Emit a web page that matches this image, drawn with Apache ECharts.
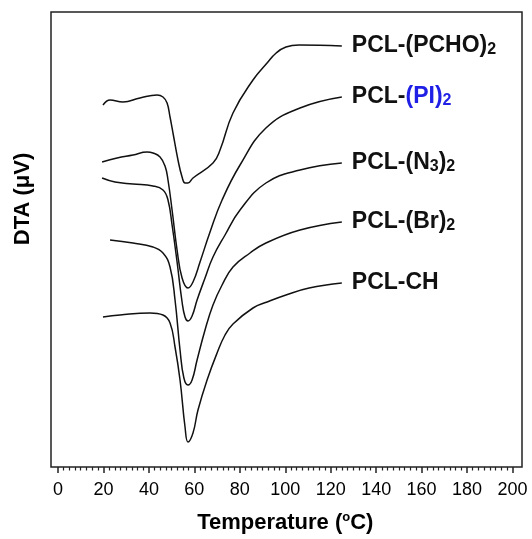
<!DOCTYPE html>
<html>
<head>
<meta charset="utf-8">
<script src="https://cdn.jsdelivr.net/npm/echarts@6/dist/echarts.min.js"></script>
<style>
html, body { margin: 0; padding: 0; background: #fff; }
#chart { width: 532px; height: 539px; }
</style>
</head>
<body>
<div id="chart"></div>
<script>
let chart = echarts.init(document.getElementById('chart'));

// 数据：[温度 °C, DTA 任意单位]
let pchoData = [[19.8, 362], [22.9, 367], [28.6, 365], [36.1, 369], [43.6, 372], [46.2, 370], [48.0, 364],
    [49.3, 350], [50.6, 334], [52.8, 307], [54.6, 290], [55.9, 284], [57.2, 284], [59.4, 289], [68.2, 304],
    [71.3, 317], [77.0, 354], [85.8, 387], [92.0, 404], [96.0, 414], [100.3, 420], [106.1, 422], [124.9, 421]];
let piData = [[19.4, 305], [26.0, 309], [33.0, 312], [39.2, 315], [41.8, 314], [44.9, 310], [47.1, 301],
    [48.4, 287], [50.2, 257], [52.4, 217], [54.6, 189], [57.2, 179], [59.4, 185], [62.5, 205], [66.9, 235],
    [72.2, 267], [80.1, 302], [91.5, 339], [106.5, 359], [124.9, 370]];
let n3Data = [[19.4, 289], [25.1, 285], [33.0, 283], [41.8, 281], [46.2, 277], [48.4, 267], [50.2, 242],
    [52.4, 205], [54.6, 165], [55.9, 150], [57.2, 146], [59.0, 151], [61.2, 167], [64.7, 189], [68.2, 210],
    [73.5, 232], [80.1, 257], [91.5, 284], [106.5, 297], [124.9, 304]];
let brData = [[22.9, 227], [33.0, 224], [41.8, 220], [46.2, 214], [49.3, 200], [51.5, 167], [53.7, 117],
    [55.4, 89], [57.2, 82], [59.0, 87], [61.2, 107], [64.7, 137], [68.2, 162], [72.2, 182], [77.0, 200],
    [84.5, 214], [91.5, 224], [106.5, 237], [124.9, 245]];
let chData = [[19.8, 150], [27.3, 152], [40.5, 154], [46.2, 152], [49.3, 144], [51.5, 120], [53.7, 87],
    [55.9, 40], [57.2, 25], [59.4, 34], [61.6, 57], [65.6, 87], [70.0, 114], [73.5, 132], [77.0, 143],
    [85.8, 159], [92.0, 165], [100.3, 172], [110.5, 179], [124.9, 184]];

let seriesNames = ['PCL-(PCHO)2', 'PCL-(PI)2', 'PCL-(N3)2', 'PCL-(Br)2', 'PCL-CH'];
let seriesLabels = ['{k|PCL-(PCHO)}{s|2}', '{k|PCL-}{b|(PI)}{bs|2}', '{k|PCL-(N}{s|3}{k|)}{s|2}', '{k|PCL-(Br)}{s|2}', '{k|PCL-CH}'];
let allData = [pchoData, piData, n3Data, brData, chData];

let xTicks = [0, 200, 20];   // min, max, interval

const font = '"Liberation Sans", Arial, sans-serif';
const blue = '#1f1fe6';

let labelRich = {
    k: {fontFamily: font, fontSize: 23, fontWeight: 'bold', color: '#111', lineHeight: 24, verticalAlign: 'top'},
    s: {fontFamily: font, fontSize: 16, fontWeight: 'bold', color: '#111', lineHeight: 12, verticalAlign: 'bottom'},
    b: {fontFamily: font, fontSize: 23, fontWeight: 'bold', color: blue, lineHeight: 24, verticalAlign: 'top'},
    bs: {fontFamily: font, fontSize: 16, fontWeight: 'bold', color: blue, lineHeight: 12, verticalAlign: 'bottom'}
};

let series = allData.map((d, i) => ({
    name: seriesNames[i],
    type: 'line',
    xAxisIndex: 0,
    yAxisIndex: 0,
    data: d,
    smooth: 0.45,
    symbol: 'none',
    lineStyle: {color: '#111', width: 1.5},
    endLabel: {
        show: true,
        distance: 10,
        formatter: () => seriesLabels[i],
        rich: labelRich
    }
}));

let option = {
    animation: false,
    backgroundColor: '#fff',
    grid: [
        {left: 58, right: 19.5, top: 12, bottom: 72},
        // 外框
        {left: 51, right: 10, top: 12, bottom: 72, show: true, borderColor: '#222', borderWidth: 1.5, backgroundColor: 'transparent'}
    ],
    xAxis: [
        {
            gridIndex: 0,
            type: 'value',
            min: xTicks[0],
            max: xTicks[1],
            interval: xTicks[2],
            name: '{t|Temperature (}{o|o}{t|C)}',
            nameLocation: 'middle',
            nameGap: 44,
            nameTextStyle: {
                rich: {
                    t: {fontFamily: font, fontSize: 22, fontWeight: 'bold', color: '#000', lineHeight: 24},
                    o: {fontFamily: font, fontSize: 13, fontWeight: 'bold', color: '#000', lineHeight: 12, verticalAlign: 'top'}
                }
            },
            axisLine: {show: false},
            axisTick: {show: true, length: 6, lineStyle: {color: '#222', width: 1.5}},
            minorTick: {show: true, splitNumber: 8, length: 3.5, lineStyle: {color: '#222', width: 1.2}},
            axisLabel: {fontFamily: font, fontSize: 18, color: '#000', margin: 14},
            splitLine: {show: false}
        },
        {gridIndex: 1, type: 'value', show: false, min: 0, max: 1}
    ],
    yAxis: [
        {gridIndex: 0, type: 'value', min: 0, max: 455, show: false, splitLine: {show: false}},
        {gridIndex: 1, type: 'value', min: 0, max: 1, show: false, splitLine: {show: false}}
    ],
    graphic: [
        {
            type: 'text',
            x: 23,
            y: 199,
            rotation: Math.PI / 2,
            style: {
                text: 'DTA (μV)',
                fontFamily: font,
                fontSize: 22,
                fontWeight: 'bold',
                fill: '#000',
                align: 'center',
                verticalAlign: 'middle',
                textAlign: 'center',
                textVerticalAlign: 'middle'
            }
        }
    ],
    series: series
};

chart.setOption(option);
</script>
</body>
</html>
